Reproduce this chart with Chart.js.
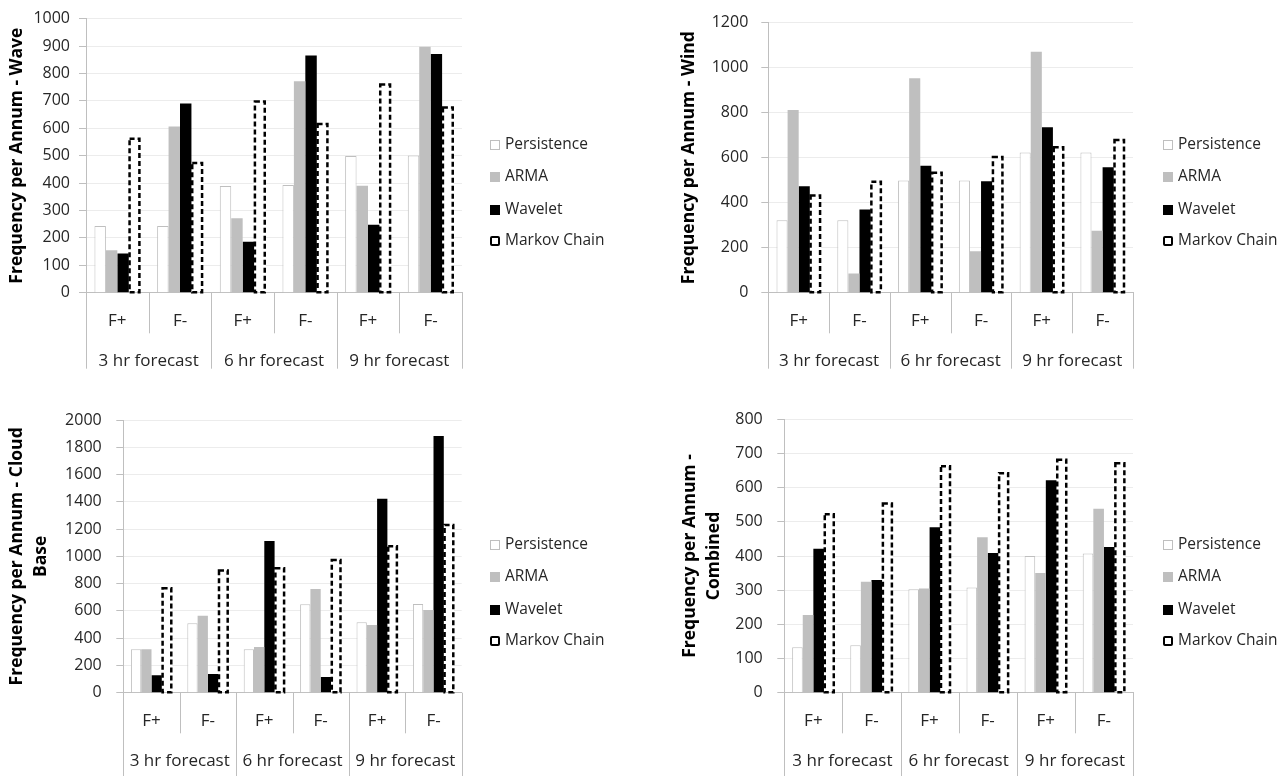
<!DOCTYPE html>
<html>
<head>
<meta charset="utf-8">
<title>Forecast frequency per annum</title>
<script src="https://cdn.jsdelivr.net/npm/chart.js@4.4.1/dist/chart.umd.min.js"></script>
<style>
  html, body { margin: 0; padding: 0; background: #fff; }
  body { width: 1288px; height: 776px; position: relative; overflow: hidden; font-family: 'Open Sans', sans-serif; }
  .panel { position: absolute; width: 644px; height: 388px; }
  .panel canvas { position: absolute; left: 0; top: 0; }
  .legend { position: absolute; left: 0; top: 0; font-size: 15.5px; color: #262626; }
  .legend .item { position: absolute; white-space: nowrap; height: 22px; line-height: 22px; transform: translateY(-50%); }
  .legend .sw { display: inline-block; width: 10px; height: 10px; box-sizing: border-box; vertical-align: -1px; margin-right: 5px; }
</style>
</head>
<body>
<div class="panel" style="left:0;top:0"><canvas id="wave" width="644" height="388"></canvas></div>
<div class="panel" style="left:644px;top:0"><canvas id="wind" width="644" height="388"></canvas></div>
<div class="panel" style="left:0;top:388px"><canvas id="cloud" width="644" height="388"></canvas></div>
<div class="panel" style="left:644px;top:388px"><canvas id="combined" width="644" height="388"></canvas></div>
<script>
// Categories: error type within each forecast horizon
const categories = ['F+', 'F-', 'F+', 'F-', 'F+', 'F-'];
const horizons = ['3 hr forecast', '6 hr forecast', '9 hr forecast'];
const seriesNames = ['Persistence', 'ARMA', 'Wavelet', 'Markov Chain'];

// Wave
const wavePersistence = [243, 243, 389, 393, 499, 501];
const waveArma        = [155, 606, 272, 771, 390, 897];
const waveWavelet     = [143, 690, 186, 865, 248, 871];
const waveMarkov      = [566, 478, 702, 620, 764, 680];

// Wind
const windPersistence = [322, 322, 498, 498, 623, 623];
const windArma        = [812, 85, 953, 184, 1070, 275];
const windWavelet     = [473, 370, 564, 495, 735, 557];
const windMarkov      = [437, 498, 538, 608, 652, 684];

// Cloud base
const cloudPersistence = [318, 509, 318, 648, 516, 650];
const cloudArma        = [318, 565, 335, 760, 497, 607];
const cloudWavelet     = [128, 137, 1113, 115, 1423, 1883];
const cloudMarkov      = [776, 905, 922, 983, 1084, 1240];

// Combined
const combinedPersistence = [133, 139, 303, 308, 400, 407];
const combinedArma        = [227, 325, 305, 455, 350, 538];
const combinedWavelet     = [421, 330, 484, 409, 622, 426];
const combinedMarkov      = [526, 557, 666, 646, 685, 675];

const FONT = "'Open Sans', sans-serif";
const AXIS_GRAY = '#bfbfbf';
const GRID_GRAY = '#ececec';
const TEXT = '#262626';

Chart.defaults.font.family = FONT;
Chart.defaults.color = TEXT;

// Series styling (Markov Chain gets a dashed outline drawn by a plugin)
const seriesStyles = [
  { backgroundColor: '#ffffff', borderColor: AXIS_GRAY, borderWidth: 1 },
  { backgroundColor: '#bfbfbf', borderWidth: 0 },
  { backgroundColor: '#000000', borderWidth: 0 },
  { backgroundColor: '#ffffff', borderWidth: 0, dashedOutline: true }
];
const swatchCss = [
  'background:#fff;border:1px solid #bfbfbf;',
  'background:#bfbfbf;',
  'background:#000;',
  'background:#fff;border:2.5px solid #000;border-radius:2px;'
];

// Dashed outline for bars flagged with dashedOutline
const dashedBars = {
  id: 'dashedBars',
  afterDatasetsDraw(chart) {
    const ctx = chart.ctx;
    chart.data.datasets.forEach((ds, i) => {
      if (!ds.dashedOutline) return;
      const meta = chart.getDatasetMeta(i);
      ctx.save();
      ctx.strokeStyle = '#000';
      ctx.lineWidth = 2.5;
      ctx.setLineDash([5, 3]);
      meta.data.forEach(bar => {
        const p = bar.getProps(['x', 'y', 'base', 'width'], true);
        ctx.strokeRect(p.x - p.width / 2 + 0.8, p.y + 1.25, p.width - 1.6, p.base - p.y - 1.25);
      });
      ctx.restore();
    });
  }
};

// Two-level category axis: separators and forecast-horizon labels
const groupAxis = {
  id: 'groupAxis',
  afterDraw(chart, args, opts) {
    const xs = chart.scales.x;
    const ctx = chart.ctx;
    const n = categories.length;
    const step = xs.getPixelForValue(1) - xs.getPixelForValue(0);
    const y0 = xs.top;
    ctx.save();
    ctx.strokeStyle = AXIS_GRAY;
    ctx.lineWidth = 1;
    for (let i = 0; i <= n; i++) {
      const px = Math.round(i < n ? xs.getPixelForValue(i) - step / 2 : xs.getPixelForValue(n - 1) + step / 2) + 0.5;
      const len = i % 2 === 0 ? opts.outer : opts.inner;
      ctx.beginPath();
      ctx.moveTo(px, y0);
      ctx.lineTo(px, y0 + len);
      ctx.stroke();
    }
    ctx.fillStyle = TEXT;
    ctx.font = '17px ' + FONT;
    ctx.textAlign = 'center';
    ctx.textBaseline = 'middle';
    horizons.forEach((h, g) => {
      const cx = (xs.getPixelForValue(2 * g) + xs.getPixelForValue(2 * g + 1)) / 2;
      ctx.fillText(h, cx, y0 + opts.labelOffset);
    });
    ctx.restore();
  }
};

const panels = [
  { id: 'wave', series: [wavePersistence, waveArma, waveWavelet, waveMarkov],
    title: 'Frequency per Annum - Wave', max: 1000, step: 100,
    area: { left: 86, top: 16.7, right: 462, bottom: 292.7 },
    titleCenter: 17, tickPad: 9, outer: 76,
    legendX: 490, legendY: [142.7, 175, 208.3, 239.3] },
  { id: 'wind', series: [windPersistence, windArma, windWavelet, windMarkov],
    title: 'Frequency per Annum - Wind', max: 1200, step: 200,
    area: { left: 124.3, top: 19.3, right: 489, bottom: 292.7 },
    titleCenter: 45.2, tickPad: 13, outer: 76,
    legendX: 519, legendY: [142.7, 175, 208.3, 239.3] },
  { id: 'cloud', series: [cloudPersistence, cloudArma, cloudWavelet, cloudMarkov],
    title: ['Frequency per Annum - Cloud', 'Base'], max: 2000, step: 200,
    area: { left: 123.3, top: 32, right: 461.7, bottom: 304.7 },
    titleCenter: 17, tickPad: 14.6, outer: 84,
    legendX: 490, legendY: [154.7, 187, 220.3, 251.3] },
  { id: 'combined', series: [combinedPersistence, combinedArma, combinedWavelet, combinedMarkov],
    title: ['Frequency per Annum -', 'Combined'], max: 800, step: 100,
    area: { left: 140.3, top: 31.3, right: 489, bottom: 304.7 },
    titleCenter: 46, tickPad: 14.6, outer: 84,
    legendX: 519, legendY: [154.7, 187, 220.3, 251.3] }
];

panels.forEach(p => {
  const canvas = document.getElementById(p.id);
  const W = canvas.width, H = canvas.height;
  const titleLH = 24;

  new Chart(canvas, {
    type: 'bar',
    data: {
      labels: categories,
      datasets: p.series.map((values, k) => Object.assign({
        label: seriesNames[k],
        data: values,
        barPercentage: 1,
        categoryPercentage: 0.73
      }, seriesStyles[k]))
    },
    options: {
      responsive: false,
      animation: false,
      devicePixelRatio: 1,
      layout: { padding: { left: 0, top: p.area.top, right: W - p.area.right, bottom: 0 } },
      plugins: {
        legend: { display: false },
        tooltip: { enabled: false },
        groupAxis: { outer: p.outer, inner: 40.6, labelOffset: 68.5 }
      },
      scales: {
        x: {
          grid: { display: false, drawTicks: false },
          border: { display: true, color: AXIS_GRAY },
          ticks: { font: { size: 17 }, color: TEXT, padding: 18.3, maxRotation: 0, autoSkip: false },
          afterFit(scale) { scale.height = H - p.area.bottom; }
        },
        y: {
          min: 0, max: p.max,
          ticks: { stepSize: p.step, font: { size: 16 }, color: TEXT, padding: p.tickPad,
                   callback: v => String(v) },
          grid: {
            color: ctx => (ctx.tick && ctx.tick.value === 0 ? AXIS_GRAY : GRID_GRAY),
            tickColor: AXIS_GRAY, tickLength: 7, drawTicks: true
          },
          border: { display: true, color: AXIS_GRAY },
          title: {
            display: true, text: p.title, color: '#000',
            font: { size: 17.5, weight: 'bold', lineHeight: titleLH + 'px' },
            padding: { top: p.titleCenter - titleLH / 2, bottom: 0 }
          },
          afterFit(scale) { scale.width = p.area.left; }
        }
      }
    },
    plugins: [dashedBars, groupAxis]
  });

  // Legend beside the plot
  const legend = document.createElement('div');
  legend.className = 'legend';
  seriesNames.forEach((name, k) => {
    const item = document.createElement('div');
    item.className = 'item';
    item.style.left = p.legendX + 'px';
    item.style.top = p.legendY[k] + 'px';
    const sw = document.createElement('span');
    sw.className = 'sw';
    sw.style.cssText = swatchCss[k];
    item.appendChild(sw);
    item.appendChild(document.createTextNode(name));
    legend.appendChild(item);
  });
  canvas.parentNode.appendChild(legend);
});
</script>
</body>
</html>
